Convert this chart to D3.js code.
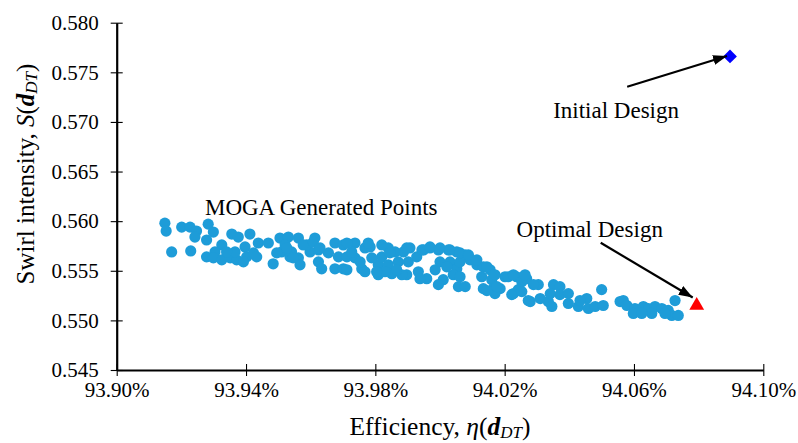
<!DOCTYPE html>
<html>
<head>
<meta charset="utf-8">
<script src="https://cdn.jsdelivr.net/npm/d3@7"></script>
<style>
  html, body { margin: 0; padding: 0; background: #fff; }
  svg { display: block; }
  text { font-family: "Liberation Serif", "Times New Roman", Times, "DejaVu Serif", serif; fill: #000; }
</style>
</head>
<body>
<svg id="chart" width="798" height="443"></svg>
<script>
// ---- Data ----
const xTicks = [93.90, 93.94, 93.98, 94.02, 94.06, 94.10];
const yTicks = [0.545, 0.550, 0.555, 0.560, 0.565, 0.570, 0.575, 0.580];

const mogaEff = [
  93.9149, 93.9153, 93.9201, 93.9227, 93.9247, 93.9242, 93.9283, 93.9299, 93.9278, 93.9170,
  93.9229, 93.9356, 93.9376, 93.9412, 93.9438, 93.9469, 93.9505, 93.9325, 93.9304, 93.9278,
  93.9299, 93.9325, 93.9351, 93.9371, 93.9366, 93.9397, 93.9402, 93.9423, 93.9392, 93.9433,
  93.9484, 93.9510, 93.9340, 93.9531, 93.9562, 93.9613, 93.9536, 93.9562, 93.9567, 93.9598,
  93.9624, 93.9624, 93.9634, 93.9675, 93.9701, 93.9737, 93.9768, 93.9784, 93.9686, 93.9712,
  93.9737, 93.9675, 93.9701, 93.9758, 93.9768, 93.9809, 93.9820, 93.9840, 93.9840, 93.9851,
  93.9871, 93.9887, 93.9907, 93.9902, 93.9897, 93.9928, 93.9933, 93.9809, 93.9882, 93.9949,
  93.9969, 93.9995, 94.0026, 94.0052, 94.0078, 94.0093, 94.0114, 94.0134, 94.0155, 93.9959,
  93.9985, 94.0000, 94.0031, 94.0052, 94.0062, 94.0010, 93.9995, 94.0041, 94.0062, 94.0057,
  94.0078, 94.0129, 94.0134, 94.0160, 94.0165, 94.0186, 94.0170, 94.0201, 94.0211, 94.0237,
  94.0253, 94.0227, 94.0242, 94.0268, 94.0279, 94.0304, 94.0310, 94.0335, 94.0346, 94.0351,
  94.0371, 94.0371, 94.0397, 94.0397, 94.0428, 94.0454, 94.0459, 94.0480, 94.0500, 94.0505,
  94.0557, 94.0567, 94.0578, 94.0603, 94.0598, 94.0629, 94.0645, 94.0665, 94.0686, 94.0706,
  94.0717, 94.0727, 94.0655, 94.0624, 94.0433, 94.0263, 94.0222, 94.0341, 94.0737, 94.0696,
  93.9521, 93.9541, 93.9588, 93.9655, 93.9727, 93.9753, 93.9789, 93.9830, 93.9861, 93.9820,
  93.9712, 93.9778, 93.9845, 93.9897, 93.9944, 93.9969, 94.0000, 94.0031, 94.0062, 94.0088,
  94.0114, 94.0145, 94.0170, 94.0227, 94.0289, 93.9938, 94.0145, 94.0176, 94.0253, 94.0273,
  93.9712, 93.9804, 93.9866, 94.0021, 93.9577, 93.9608, 93.9629, 93.9526, 93.9495, 93.9546
];
const mogaSwirl = [
  0.5598, 0.5590, 0.5594, 0.5594, 0.5590, 0.5584, 0.5597, 0.5589, 0.5581, 0.5569,
  0.5570, 0.5587, 0.5584, 0.5587, 0.5578, 0.5578, 0.5583, 0.5576, 0.5569, 0.5564,
  0.5563, 0.5561, 0.5563, 0.5561, 0.5569, 0.5574, 0.5564, 0.5568, 0.5559, 0.5564,
  0.5557, 0.5569, 0.5569, 0.5584, 0.5583, 0.5583, 0.5564, 0.5563, 0.5556, 0.5569,
  0.5571, 0.5559, 0.5552, 0.5578, 0.5576, 0.5578, 0.5573, 0.5574, 0.5564, 0.5564,
  0.5563, 0.5552, 0.5552, 0.5552, 0.5549, 0.5556, 0.5564, 0.5573, 0.5556, 0.5547,
  0.5559, 0.5569, 0.5573, 0.5559, 0.5546, 0.5564, 0.5549, 0.5546, 0.5546, 0.5571,
  0.5573, 0.5571, 0.5571, 0.5569, 0.5566, 0.5561, 0.5556, 0.5554, 0.5551, 0.5542,
  0.5551, 0.5559, 0.5559, 0.5552, 0.5559, 0.5541, 0.5536, 0.5546, 0.5544, 0.5534,
  0.5534, 0.5544, 0.5532, 0.5541, 0.5532, 0.5532, 0.5527, 0.5544, 0.5544, 0.5544,
  0.5539, 0.5527, 0.5531, 0.5542, 0.5519, 0.5536, 0.5522, 0.5519, 0.5514, 0.5536,
  0.5534, 0.5526, 0.5527, 0.5517, 0.5514, 0.5522, 0.5512, 0.5514, 0.5531, 0.5515,
  0.5519, 0.5520, 0.5515, 0.5512, 0.5507, 0.5514, 0.5512, 0.5514, 0.5512, 0.5510,
  0.5505, 0.5520, 0.5507, 0.5507, 0.5520, 0.5546, 0.5526, 0.5527, 0.5505, 0.5507,
  0.5576, 0.5569, 0.5576, 0.5568, 0.5569, 0.5559, 0.5563, 0.5549, 0.5569, 0.5576,
  0.5578, 0.5578, 0.5568, 0.5573, 0.5571, 0.5574, 0.5573, 0.5571, 0.5568, 0.5566,
  0.5561, 0.5554, 0.5546, 0.5546, 0.5536, 0.5542, 0.5530, 0.5534, 0.5529, 0.5520,
  0.5551, 0.5549, 0.5551, 0.5554, 0.5576, 0.5579, 0.5573, 0.5573, 0.5568, 0.5563
];

const initialDesign = [94.0897, 0.5766];
const optimalDesign = [94.0794, 0.5516];

// annotation label anchors (data units)
const labelTexts = ["MOGA Generated Points", "Optimal Design", "Initial Design"];
const labelEff   = [93.9273, 94.0237, 94.0350];
const labelSwirl = [0.56062, 0.55843, 0.57036];
// arrow tails (data units)
const arrowTailEff   = [94.0579, 94.0497];
const arrowTailSwirl = [0.57355, 0.55782];

// ---- Layout ----
const W = 798, H = 443;
const margin = { left: 116.7, right: 34.7, top: 22.7, bottom: 73 };
const svg = d3.select("#chart");

const x = d3.scaleLinear().domain([93.90, 94.10]).range([margin.left, W - margin.right]);
const y = d3.scaleLinear().domain([0.545, 0.580]).range([H - margin.bottom, margin.top]);

// defs: arrowhead
svg.append("defs").append("marker")
  .attr("id", "arrow")
  .attr("markerUnits", "userSpaceOnUse")
  .attr("viewBox", "0 0 14 10")
  .attr("refX", 14).attr("refY", 5)
  .attr("markerWidth", 14).attr("markerHeight", 11)
  .attr("orient", "auto")
  .append("path").attr("d", "M0,0 L14,5 L0,10 Z").attr("fill", "#000");

// ---- Axes ----
const xAxis = d3.axisBottom(x).tickValues(xTicks)
  .tickFormat(d => d.toFixed(2) + "%").tickSizeOuter(0).tickSizeInner(6).tickPadding(12);
const yAxis = d3.axisLeft(y).tickValues(yTicks)
  .tickFormat(d => d.toFixed(3)).tickSizeOuter(0).tickSizeInner(6).tickPadding(12);

const gx = svg.append("g").attr("transform", `translate(0,${y(0.545)})`).call(xAxis);
const gy = svg.append("g").attr("transform", `translate(${x(93.90)},0)`).call(yAxis);

[gx, gy].forEach(g => {
  g.attr("font-family", null);
  g.select(".domain").attr("stroke", "#000").attr("stroke-width", 2.2);
  g.selectAll(".tick line").attr("stroke", "#000").attr("stroke-width", 1.1);
  g.selectAll(".tick text").attr("font-size", 21).attr("fill", "#222");
});
gx.selectAll(".tick line").attr("y1", -6).attr("y2", 6);
gy.selectAll(".tick line").attr("x1", -6).attr("x2", 6);
gx.selectAll(".tick text").attr("dy", "0.71em").attr("y", 12);

// ---- MOGA points ----
const pts = mogaEff.map((e, i) => [e, mogaSwirl[i]]);
svg.append("g").selectAll("circle").data(pts).join("circle")
  .attr("cx", d => x(d[0])).attr("cy", d => y(d[1]))
  .attr("r", 5.6).attr("fill", "#1E9CD8");

// ---- Initial design (diamond) ----
svg.append("path")
  .attr("d", d3.symbol().type(d3.symbolSquare).size(95)())
  .attr("transform", `translate(${x(initialDesign[0])},${y(initialDesign[1])}) rotate(45)`)
  .attr("fill", "#0000FF");

// ---- Optimal design (triangle) ----
svg.append("path")
  .attr("d", d3.symbol().type(d3.symbolTriangle).size(95)())
  .attr("transform", `translate(${x(optimalDesign[0])},${y(optimalDesign[1]) + 1})`)
  .attr("fill", "#FF0000");

// ---- Arrows ----
const targets = [initialDesign, optimalDesign];
const tipOffset = [[-3, -0.5], [-4, -7]];
targets.forEach((t, i) => {
  svg.append("line")
    .attr("x1", x(arrowTailEff[i])).attr("y1", y(arrowTailSwirl[i]))
    .attr("x2", x(t[0]) + tipOffset[i][0]).attr("y2", y(t[1]) + tipOffset[i][1])
    .attr("stroke", "#000").attr("stroke-width", 2.2)
    .attr("marker-end", "url(#arrow)");
});

// ---- Labels ----
labelTexts.forEach((s, i) => {
  svg.append("text")
    .attr("x", x(labelEff[i])).attr("y", y(labelSwirl[i]))
    .attr("font-size", 23).attr("fill", "#111")
    .text(s);
});

// ---- Axis titles ----
const xt = svg.append("text")
  .attr("x", 440).attr("y", 434.5)
  .attr("text-anchor", "middle").attr("font-size", 25.5).attr("fill", "#111");
xt.append("tspan").text("Efficiency, ");
xt.append("tspan").attr("font-style", "italic").text("η");
xt.append("tspan").text("(");
xt.append("tspan").attr("font-style", "italic").attr("font-weight", "bold").text("d");
xt.append("tspan").attr("font-style", "italic").attr("font-size", 17).attr("dy", 3).text("DT");
xt.append("tspan").attr("dy", -3).text(")");

const yt = svg.append("text")
  .attr("transform", `translate(33.5,174) rotate(-90)`)
  .attr("text-anchor", "middle").attr("font-size", 25).attr("fill", "#111");
yt.append("tspan").text("Swirl intensity, ");
yt.append("tspan").attr("font-style", "italic").text("S");
yt.append("tspan").text("(");
yt.append("tspan").attr("font-style", "italic").attr("font-weight", "bold").text("d");
yt.append("tspan").attr("font-style", "italic").attr("font-size", 17).attr("dy", 3).text("DT");
yt.append("tspan").attr("dy", -3).text(")");
</script>
</body>
</html>
